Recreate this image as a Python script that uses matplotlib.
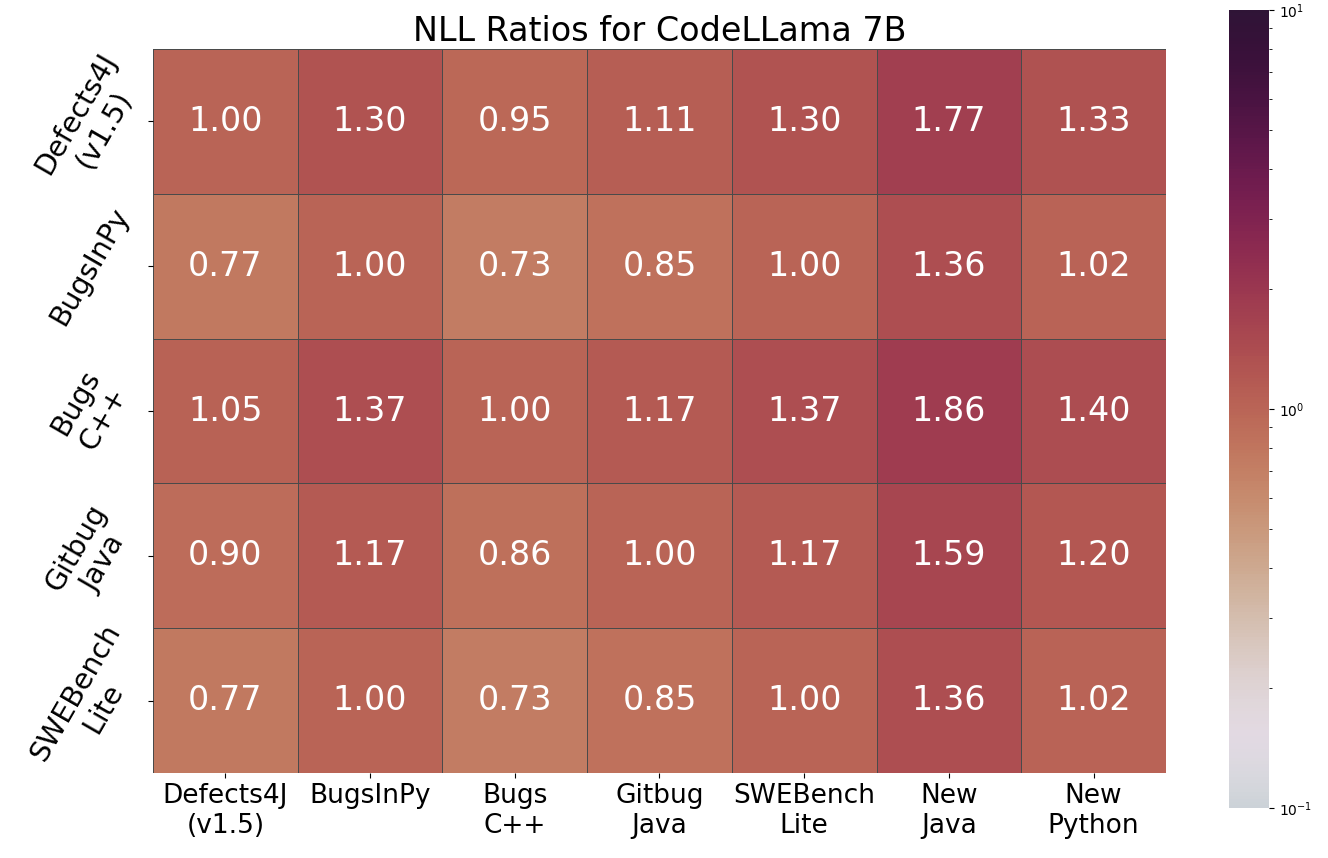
import numpy as np
import matplotlib
matplotlib.use("Agg")
import matplotlib.pyplot as plt
from matplotlib.colors import LogNorm, ListedColormap

# datasets (rows = source, cols = target)
row_labels = ["Defects4J\n(v1.5)", "BugsInPy", "Bugs\nC++", "Gitbug\nJava", "SWEBench\nLite"]
col_labels = ["Defects4J\n(v1.5)", "BugsInPy", "Bugs\nC++", "Gitbug\nJava", "SWEBench\nLite", "New\nJava", "New\nPython"]

defects4j = [1.00, 1.30, 0.95, 1.11, 1.30, 1.77, 1.33]
bugsinpy = [0.77, 1.00, 0.73, 0.85, 1.00, 1.36, 1.02]
bugscpp = [1.05, 1.37, 1.00, 1.17, 1.37, 1.86, 1.40]
gitbug = [0.90, 1.17, 0.86, 1.00, 1.17, 1.59, 1.20]
swebench = [0.77, 1.00, 0.73, 0.85, 1.00, 1.36, 1.02]

ratios = np.array([defects4j, bugsinpy, bugscpp, gitbug, swebench])

# upper part of twilight_shifted, centred on 1 like seaborn does
base = plt.get_cmap("twilight_shifted")
cmap = ListedColormap(base(np.linspace(0.45, 1.0, 256)))
norm = LogNorm(vmin=0.1, vmax=10)

fig = plt.figure(figsize=(13.28, 8.58), dpi=100)
ax = fig.add_axes([0.1152, 0.099, 0.7628, 0.8439])
cax = fig.add_axes([0.9255, 0.0583, 0.0301, 0.93])

mesh = ax.pcolormesh(ratios, cmap=cmap, norm=norm, edgecolors="#4a4a4a", linewidth=0.6)
ax.set_xlim(0, ratios.shape[1])
ax.set_ylim(ratios.shape[0], 0)

for i in range(ratios.shape[0]):
    for j in range(ratios.shape[1]):
        ax.text(j + 0.5, i + 0.5, f"{ratios[i, j]:.2f}", ha="center", va="center",
                color="white", fontsize=24)

ax.set_xticks(np.arange(ratios.shape[1]) + 0.5)
ax.set_xticklabels(col_labels, fontsize=19, ha="center")
ax.set_yticks(np.arange(ratios.shape[0]) + 0.5)
ax.set_yticklabels(row_labels, fontsize=20.5, rotation=60, ha="center", va="center",
                   rotation_mode="anchor")
ax.tick_params(axis="y", pad=42)
for s in ax.spines.values():
    s.set_visible(False)

ax.set_title("NLL Ratios for CodeLLama 7B", fontsize=24)

cb = fig.colorbar(mesh, cax=cax)
cb.outline.set_visible(False)
cb.ax.tick_params(labelsize=10)

fig.savefig("out.png", dpi=100)
